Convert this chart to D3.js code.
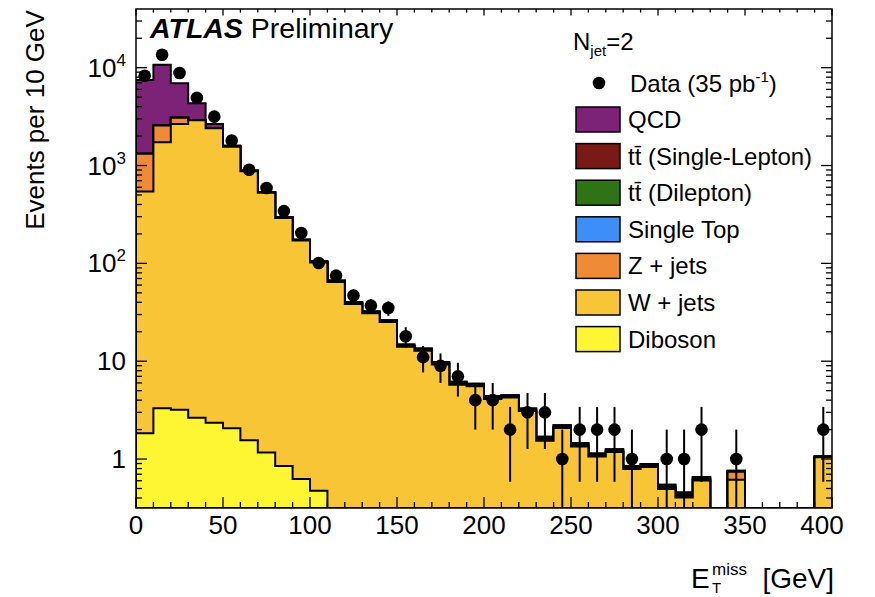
<!DOCTYPE html>
<html><head><meta charset="utf-8">
<script src="https://cdn.jsdelivr.net/npm/d3@7"></script>
<style>
body{margin:0;background:#fff}
svg{display:block}
text{font-family:"Liberation Sans",Arial,Helvetica,sans-serif;fill:#000}
</style>
</head><body>
<svg id="chart" width="875" height="597"></svg>
<script>
// ---- data (10 GeV bins, lower edges) ----
const binLow = [0,10,20,30,40,50,60,70,80,90,100,110,120,130,140,150,160,170,180,190,
                200,210,220,230,240,250,260,270,280,290,300,310,320,330,340,350,360,370,380,390];
const dataCounts = [8270,13580,8830,4910,3160,1800,904,590,342,204, 101,75,47,37,35,18,11,9,7,4,
                    4,2,3,3,1,2,2,2,1,0, 1,1,2,0,1,0,0,0,0,2];
const diboson = [1.84,3.3,3.2,2.64,2.35,2.06,1.56,1.17,0.85,0.625, 0.475,0.28,0.22,0.18,0.15,0.12,0.1,0.08,0.06,0.05,
                 0.04,0.03,0.03,0.02,0.02,0.015,0.01,0.01,0.01,0.01, 0.005,0.005,0.005,0,0.005,0,0,0,0,0.005];
const wjets = [541,1727,2660,2900,2400,1558,873,525,290.5,170.4, 101.6,64.3,38.3,30.8,25.0,13.9,12.7,9.2,5.67,5.49,
               4.06,4.23,3.06,1.52,2.06,1.33,1.05,1.17,0.78,0.82, 0.49,0.40,0.60,0,0.61,0,0,0,0,1.04];
const zjets = [773,830,407,20,20,12,7,4,2.5,1.6, 1.0,0.7,0.5,0.4,0.3,0.2,0.15,0.1,0.08,0.06,
               0.05,0.04,0.03,0.02,0.02,0.02,0.01,0.01,0.01,0.01, 0.01,0.01,0.01,0,0.125,0,0,0,0,0];
const singleTop = [0.3,0.6,0.8,0.9,0.9,0.85,0.8,0.7,0.6,0.5, 0.4,0.3,0.25,0.2,0.15,0.12,0.1,0.08,0.06,0.05,
                   0.04,0.03,0.03,0.02,0.02,0.02,0.01,0.01,0.01,0.01, 0.01,0.01,0.01,0,0.005,0,0,0,0,0.005];
const ttDilepton = [0.1,0.2,0.3,0.4,0.45,0.5,0.5,0.5,0.45,0.4, 0.35,0.3,0.25,0.2,0.18,0.15,0.12,0.1,0.08,0.07,
                    0.06,0.05,0.04,0.03,0.03,0.02,0.02,0.02,0.01,0.01, 0.01,0.01,0.01,0,0.005,0,0,0,0,0.005];
const ttSingleLepton = [0.2,0.5,0.8,1.0,1.2,1.3,1.3,1.2,1.1,1.0, 0.9,0.8,0.6,0.5,0.4,0.35,0.3,0.25,0.2,0.18,
                        0.15,0.12,0.1,0.08,0.07,0.05,0.04,0.04,0.03,0.03, 0.02,0.02,0.02,0,0.01,0,0,0,0,0.01];
const qcd = [6173,8169,3848,1400,238,25,6,2,1,0.5, 0.3,0.2,0.1,0.1,0,0,0,0,0,0,
             0,0,0,0,0,0,0,0,0,0, 0,0,0,0,0,0,0,0,0,0];

const seriesKeys   = ["diboson","wjets","zjets","singleTop","ttDilepton","ttSingleLepton","qcd"];
const seriesColors = ["#fff633","#f8c537","#ef8a35","#3d8ef7","#2e7414","#7a1a14","#7c2377"];
const legendKeys   = ["qcd","ttSingleLepton","ttDilepton","singleTop","zjets","wjets","diboson"];
const legendLabels = ["QCD","t\u0074\u0304 (Single-Lepton)","t\u0074\u0304 (Dilepton)","Single Top","Z + jets","W + jets","Diboson"];

const xTickValues = [0,50,100,150,200,250,300,350,400];
const yTickValues = [1,10,100,1000,10000];
const yTickLabels = [["1",""],["10",""],["10","2"],["10","3"],["10","4"]];

// ---- layout ----
const L = 136, R = 832, T = 9, B = 508;
const svg = d3.select("#chart");
const x = d3.scaleLinear().domain([0,400]).range([L,R]);
const y = d3.scaleLog().domain([0.316,39800]).range([B,T]);
const yc = v => v > 0 ? y(v) : B + 200;

svg.append("clipPath").attr("id","plotclip")
  .append("rect").attr("x",L).attr("y",T).attr("width",R-L).attr("height",B-T);

const rows = binLow.map((lo,i) => ({lo, diboson:diboson[i], wjets:wjets[i], zjets:zjets[i],
  singleTop:singleTop[i], ttDilepton:ttDilepton[i], ttSingleLepton:ttSingleLepton[i], qcd:qcd[i]}));
const stacked = d3.stack().keys(seriesKeys)(rows);
const binW = 10;

const g = svg.append("g").attr("clip-path","url(#plotclip)");
// draw from top-most cumulative down
for (let k = stacked.length-1; k >= 0; k--) {
  const layer = stacked[k];
  const pts = [[x(binLow[0]), B]];
  layer.forEach((d,i) => {
    const top = yc(d[1]);
    pts.push([x(binLow[i]), top]);
    pts.push([x(binLow[i]+binW), top]);
  });
  pts.push([x(binLow[binLow.length-1]+binW), B]);
  g.append("path")
    .attr("d", d3.line()(pts) + "Z")
    .attr("fill", seriesColors[k])
    .attr("stroke","#000").attr("stroke-width",2).attr("stroke-linejoin","miter");
}

// data points with sqrt(N) errors
binLow.forEach((lo,i) => {
  const n = dataCounts[i];
  if (n <= 0) return;
  const cx = x(lo + binW/2);
  const e = Math.sqrt(n);
  const lo2 = n - e;
  g.append("line").attr("x1",cx).attr("x2",cx)
    .attr("y1", lo2 > 0 ? y(lo2) : B).attr("y2", y(n+e))
    .attr("stroke","#000").attr("stroke-width",2);
  g.append("circle").attr("cx",cx).attr("cy",y(n)).attr("r",6.3).attr("fill","#000");
});

// frame
svg.append("rect").attr("x",L).attr("y",T).attr("width",R-L).attr("height",B-T)
  .attr("fill","none").attr("stroke","#000").attr("stroke-width",1.5);

// x ticks (inside, bottom and top)
const ax = svg.append("g").attr("stroke","#000").attr("stroke-width",1.3);
for (let v = 0; v <= 400; v += 10) {
  const major = xTickValues.includes(v);
  const len = major ? 11 : 6;
  ax.append("line").attr("x1",x(v)).attr("x2",x(v)).attr("y1",B).attr("y2",B-len);
  ax.append("line").attr("x1",x(v)).attr("x2",x(v)).attr("y1",T).attr("y2",T+len*0.6);
}
// y ticks (log)
const yMinor = y.ticks().filter(v => v >= 0.316 && v <= 39800);
yMinor.forEach(v => {
  const major = yTickValues.includes(v);
  const len = major ? 11 : 6;
  ax.append("line").attr("x1",L).attr("x2",L+len).attr("y1",y(v)).attr("y2",y(v));
  ax.append("line").attr("x1",R).attr("x2",R-len).attr("y1",y(v)).attr("y2",y(v));
});

// x tick labels
xTickValues.forEach((v,i) => {
  svg.append("text").attr("x", x(v) + (i === xTickValues.length-1 ? -10 : 0)).attr("y", 534)
    .attr("text-anchor","middle").attr("font-size",26).text(v);
});
// y tick labels
yTickValues.forEach((v,i) => {
  const [base, exp] = yTickLabels[i];
  const t = svg.append("text").attr("x", 126).attr("y", y(v)+9)
    .attr("text-anchor","end").attr("font-size",26);
  t.append("tspan").text(base);
  if (exp) t.append("tspan").attr("font-size",17).attr("dy",-11).text(exp);
});

// axis titles
svg.append("text").attr("transform","translate(44,120) rotate(-90)")
  .attr("text-anchor","middle").attr("font-size",26).text("Events per 10 GeV");
svg.append("text").attr("x",691).attr("y",588).attr("font-size",28).text("E");
svg.append("text").attr("x",712).attr("y",593).attr("font-size",15).text("T");
svg.append("text").attr("x",712).attr("y",575).attr("font-size",17).text("miss");
svg.append("text").attr("x",834).attr("y",588).attr("text-anchor","end").attr("font-size",28).text("[GeV]");

// ATLAS label
const atl = svg.append("text").attr("x",150).attr("y",38).attr("font-size",28.5);
atl.append("tspan").attr("font-weight","bold").attr("font-style","italic").text("ATLAS");
atl.append("tspan").text(" Preliminary");

// legend
const nj = svg.append("text").attr("x",573).attr("y",50).attr("font-size",24);
nj.append("tspan").text("N");
nj.append("tspan").attr("font-size",15).attr("dy",6).text("jet");
nj.append("tspan").attr("dy",-6).text("=2");

svg.append("circle").attr("cx",599).attr("cy",83).attr("r",6.3).attr("fill","#000");
const dl = svg.append("text").attr("x",630).attr("y",92).attr("font-size",24);
dl.append("tspan").text("Data (35 pb");
dl.append("tspan").attr("font-size",15).attr("dy",-10).text("-1");
dl.append("tspan").attr("dy",10).text(")");

const rowY0 = 119.5, rowStep = 36.6;
legendKeys.forEach((k,i) => {
  const cy = rowY0 + i*rowStep;
  const ci = seriesKeys.indexOf(k);
  svg.append("rect").attr("x",576).attr("y",cy-12.5).attr("width",44).attr("height",25)
    .attr("fill",seriesColors[ci]).attr("stroke","#000").attr("stroke-width",1.5);
  svg.append("text").attr("x",628).attr("y",cy+8.5).attr("font-size",24).text(legendLabels[i]);
});
</script>
</body></html>
